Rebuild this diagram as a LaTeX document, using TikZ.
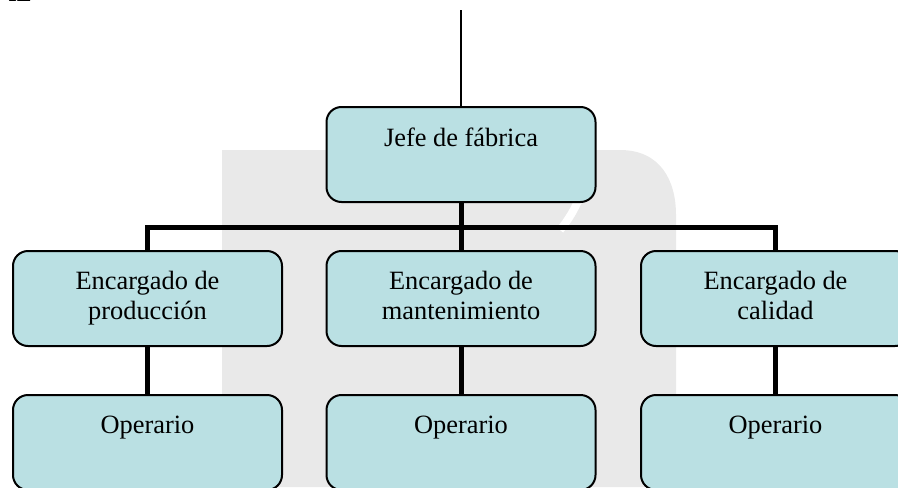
\documentclass[tikz,border=0pt]{standalone}
\usepackage{fontspec}
\setmainfont{Liberation Serif}
\definecolor{boxfill}{RGB}{186,224,227}
\definecolor{wmgray}{RGB}{233,233,233}
\begin{document}
\begin{tikzpicture}[x=0.5pt,y=-0.5pt,
  orgbox/.style={draw=black,line width=1pt,fill=boxfill,rounded corners=7.5pt,
    minimum width=134.5pt,minimum height=47.5pt,inner sep=0pt,outer sep=0pt,anchor=north west},
  lbl/.style={anchor=base,inner sep=0pt,font=\fontsize{13.2}{15}\selectfont},
  thin/.style={line width=0.75pt},
  thickc/.style={line width=2.5pt}]
\useasboundingbox (0,0) rectangle (898,487);
% watermark
\fill[wmgray] (222,150) -- (620,150) .. controls (660,150) and (676,180) .. (676,215) -- (676,487) -- (222,487) -- cycle;
\draw[white,line width=4pt] (345,400) arc[start angle=200,end angle=105,radius=120];
\draw[white,line width=4pt] (560,230) arc[start angle=40,end angle=-30,radius=120];
% header fragment
\node[anchor=base west,inner sep=0pt,font=\fontsize{11}{13}\selectfont\bfseries] (hdr) at (8,2) {IE};
% boxes
\node[orgbox] (jefe) at (326.5,107) {};
\node[orgbox] (e1) at (13,251) {};
\node[orgbox] (e2) at (326.5,251) {};
\node[orgbox] (e3) at (641,251) {};
\node[orgbox] (o1) at (13,395) {};
\node[orgbox] (o2) at (326.5,395) {};
\node[orgbox] (o3) at (641,395) {};
% labels
\node[lbl] (tj) at (461,146) {Jefe de fábrica};
\node[lbl] (t1a) at (147.5,289) {Encargado de};
\node[lbl] (t1b) at (147.5,319) {producción};
\node[lbl] (t2a) at (461,289) {Encargado de};
\node[lbl] (t2b) at (461,319) {mantenimiento};
\node[lbl] (t3a) at (775.5,289) {Encargado de};
\node[lbl] (t3b) at (775.5,319) {calidad};
\node[lbl] (to1) at (147.5,433) {Operario};
\node[lbl] (to2) at (461,433) {Operario};
\node[lbl] (to3) at (775.5,433) {Operario};
% connectors
\coordinate (top) at (461,10);
\coordinate (bus) at (461,227);
\draw[thin] (top) -- (jefe.north);
\draw[thickc] (jefe.south) -- (bus);
\draw[thickc] (e1.north) |- (bus) -| (e3.north);
\draw[thickc] (bus) -- (e2.north);
\draw[thickc] (e1.south) -- (o1.north);
\draw[thickc] (e2.south) -- (o2.north);
\draw[thickc] (e3.south) -- (o3.north);
\end{tikzpicture}
\end{document}
